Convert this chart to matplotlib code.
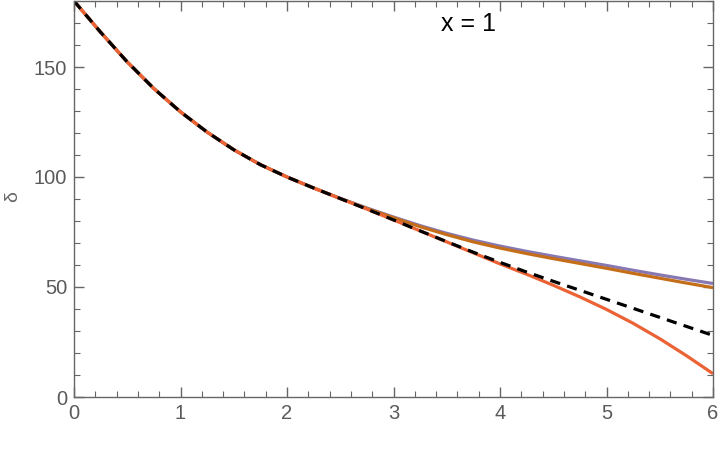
import matplotlib
matplotlib.use("Agg")
import matplotlib.pyplot as plt
from matplotlib.ticker import MultipleLocator

plt.rcParams['font.family'] = ['Liberation Sans', 'DejaVu Sans']

x = [0, 0.25, 0.5, 0.75, 1.0, 1.25, 1.5, 1.75, 2.0, 2.25, 2.5, 2.75,
     3.0, 3.25, 3.5, 3.75, 4.0, 4.25, 4.5, 4.75, 5.0, 5.25, 5.5, 5.75, 6.0]

purple = [180, 165.8, 152.3, 140.2, 129.6, 120.4, 112.4, 105.6, 100.0, 95.0, 90.3, 85.9,
          81.8, 77.9, 74.4, 71.3, 68.6, 66.2, 64.0, 61.9, 59.8, 57.6, 55.5, 53.5, 51.6]
brown = [180, 165.8, 152.3, 140.2, 129.6, 120.4, 112.4, 105.6, 100.0, 95.0, 90.2, 85.7,
         81.5, 77.4, 73.8, 70.5, 67.7, 65.2, 62.9, 60.7, 58.5, 56.2, 54.0, 51.8, 49.7]
red = [180, 165.8, 152.3, 140.2, 129.6, 120.4, 112.4, 105.6, 100.0, 95.0, 90.2, 85.4,
       80.5, 75.5, 70.5, 65.5, 60.5, 55.8, 50.8, 45.5, 39.8, 33.5, 26.5, 18.8, 10.6]
dashed = [180, 165.8, 152.3, 140.2, 129.6, 120.4, 112.4, 105.6, 100.0, 95.0, 90.2, 85.4,
          80.5, 75.5, 70.6, 65.8, 61.2, 56.8, 52.6, 48.5, 44.4, 40.3, 36.2, 32.1, 28.0]

xticks = [0, 1, 2, 3, 4, 5, 6]
yticks = [0, 50, 100, 150]
title_text = "x = 1"
ylabel_text = "δ"

fig = plt.figure(figsize=(7.2, 4.61), dpi=100)
ax = fig.add_axes([74 / 720, 64 / 461, (713 - 74) / 720, (460 - 64) / 461])

ax.plot(x, purple, color='#8778B3', lw=2.3, solid_capstyle='butt', solid_joinstyle='round')
ax.plot(x, brown, color='#C56E1A', lw=2.3, solid_capstyle='butt', solid_joinstyle='round')
ax.plot(x, red, color='#EB6235', lw=2.3, solid_capstyle='butt', solid_joinstyle='round')
ax.plot(x, dashed, color='black', lw=2.3, linestyle=(0, (3.2, 2.3)))

ax.set_xlim(0, 6)
ax.set_ylim(0, 180)
ax.set_xticks(xticks)
ax.set_yticks(yticks)
ax.xaxis.set_minor_locator(MultipleLocator(0.2))
ax.yaxis.set_minor_locator(MultipleLocator(10))

gray = '#666666'
for s in ax.spines.values():
    s.set_color(gray)
    s.set_linewidth(1.0)
ax.tick_params(which='both', direction='in', top=True, right=True, color=gray,
               labelcolor='#5a5a5a', labelsize=14.5)
ax.tick_params(which='major', length=7, width=1.0)
ax.tick_params(which='minor', length=4, width=0.8)
ax.tick_params(axis='x', pad=5)
ax.tick_params(axis='y', pad=5)

ax.text(3.7, 169.5, title_text, ha='center', va='center', fontsize=18, color='black')
fig.text(13 / 720, 1 - 197 / 461, ylabel_text, rotation=90, ha='center', va='center',
         fontsize=14, color=gray)

fig.savefig("out.png", dpi=100)
